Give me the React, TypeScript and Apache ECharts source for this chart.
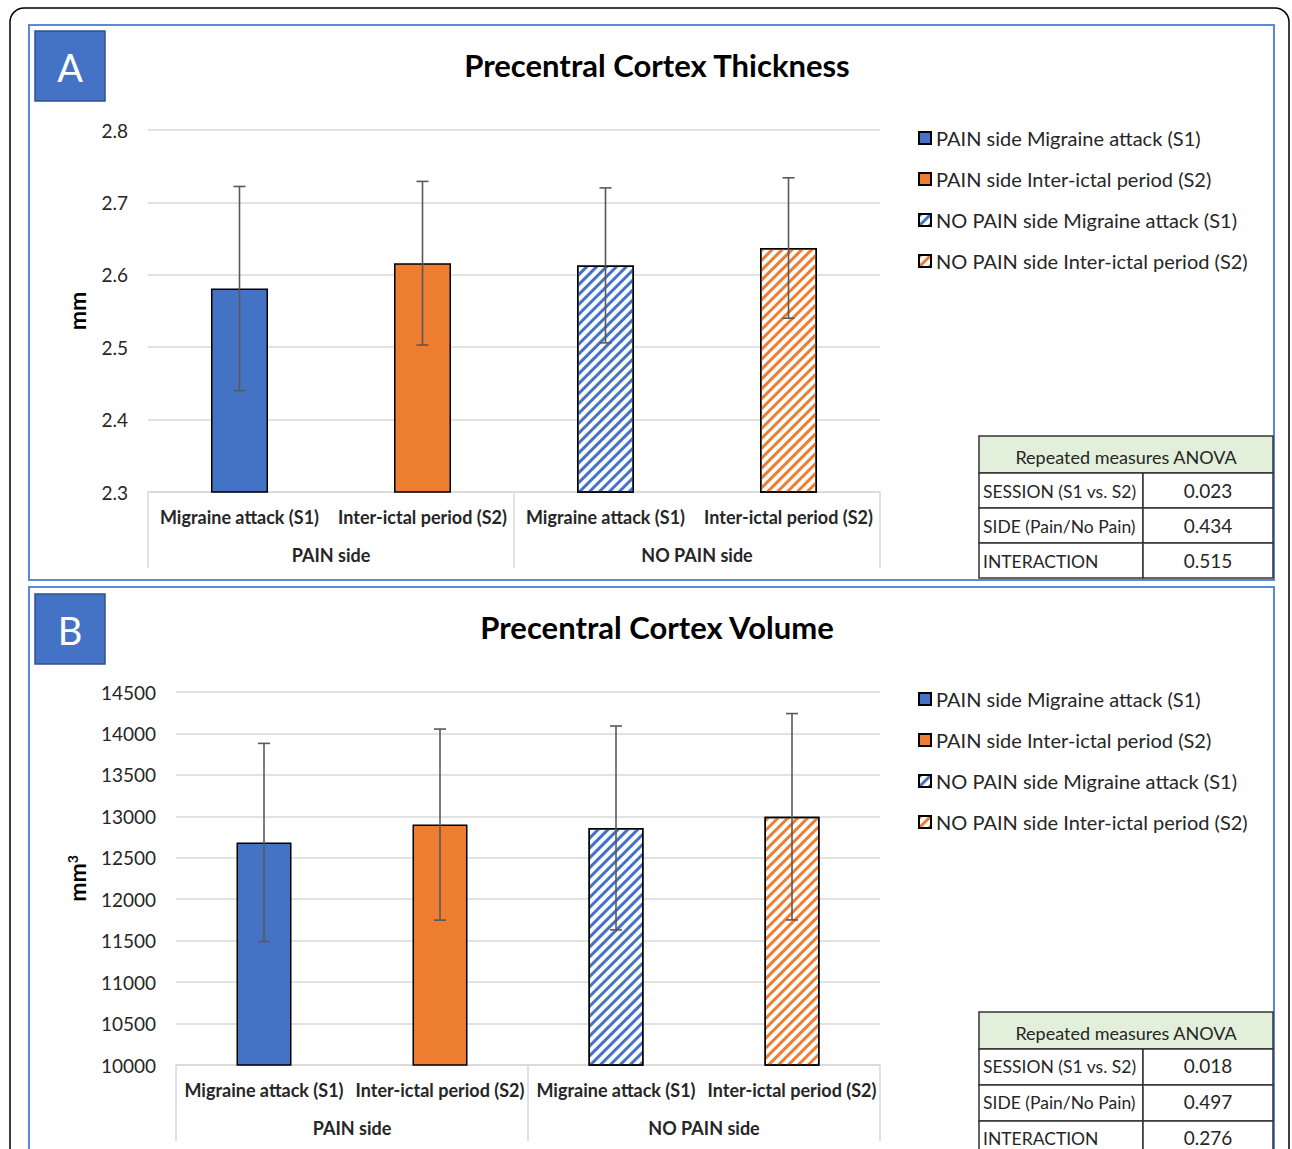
import React, { useEffect, useRef } from "react";
import * as echarts from "echarts";

const categories = ["Migraine attack (S1)", "Inter-ictal period (S2)", "Migraine attack (S1)", "Inter-ictal period (S2)"];
const groups = ["PAIN side", "NO PAIN side"];
const seriesNames = [
  "PAIN side Migraine attack (S1)",
  "PAIN side Inter-ictal period (S2)",
  "NO PAIN side Migraine attack (S1)",
  "NO PAIN side Inter-ictal period (S2)",
];
const thicknessMean = [2.581, 2.616, 2.613, 2.637];
const thicknessSD = [0.141, 0.113, 0.107, 0.097];
const volumeMean = [12685, 12900, 12860, 12995];
const volumeSD = [1195, 1153, 1230, 1245];
const thicknessTicks = [2.3, 2.4, 2.5, 2.6, 2.7, 2.8];
const volumeTicks = [10000, 10500, 11000, 11500, 12000, 12500, 13000, 13500, 14000, 14500];
const titles = ["Precentral Cortex Thickness", "Precentral Cortex Volume"];
const panelLetters = ["A", "B"];
const anovaHeader = "Repeated measures ANOVA";
const anovaEffects = ["SESSION (S1 vs. S2)", "SIDE (Pain/No Pain)", "INTERACTION"];
const anovaThickness = ["0.023", "0.434", "0.515"];
const anovaVolume = ["0.018", "0.497", "0.276"];

const FONT = 'Lato, "Open Sans", sans-serif';
const BLUE = "#4472C4";
const ORANGE = "#ED7D31";
const TXT = "#262626";

const hatch = (c: string) => ({
  symbol: "rect",
  symbolSize: 1,
  color: c,
  backgroundColor: "#ffffff",
  dashArrayX: [1, 0],
  dashArrayY: [3, 3.2],
  rotation: -Math.PI / 4,
});

const barStyles = [
  { color: BLUE, borderColor: "#000", borderWidth: 1.5 },
  { color: ORANGE, borderColor: "#000", borderWidth: 1.5 },
  { color: "#ffffff", borderColor: "#000", borderWidth: 1.5, decal: hatch(BLUE) },
  { color: "#ffffff", borderColor: "#000", borderWidth: 1.5, decal: hatch(ORANGE) },
];

const App: React.FC = () => {
  const ref = useRef<HTMLDivElement>(null);
  useEffect(() => {
    if (!ref.current) return;
    const chart = echarts.init(ref.current, undefined, { renderer: "svg" });

    const grids = [
      { left: 148, top: 130, width: 732, height: 362 },
      { left: 176, top: 692, width: 704, height: 373 },
    ];
    const means = [thicknessMean, volumeMean];
    const sds = [thicknessSD, volumeSD];
    const ticks = [thicknessTicks, volumeTicks];

    const xAxes: any[] = [];
    const yAxes: any[] = [];
    const series: any[] = [];
    [0, 1].forEach((g) => {
      xAxes.push({
        type: "category",
        gridIndex: g,
        data: categories,
        axisLine: { show: true, lineStyle: { color: "#d9d9d9", width: 1.5 } },
        axisTick: { show: false },
        axisLabel: { margin: 16, fontFamily: FONT, fontSize: 18, fontWeight: "bold", color: TXT, interval: 0 },
      });
      xAxes.push({
        type: "category",
        gridIndex: g,
        position: "bottom",
        data: groups,
        axisLine: { show: false },
        axisTick: { show: true, length: 76, lineStyle: { color: "#d9d9d9", width: 1.5 } },
        axisLabel: { margin: 54, fontFamily: FONT, fontSize: 18, fontWeight: "bold", color: TXT },
      });
      const t = ticks[g];
      yAxes.push({
        type: "value",
        gridIndex: g,
        min: t[0],
        max: t[t.length - 1],
        interval: t[1] - t[0],
        name: g === 0 ? "mm" : "mm{s|3}",
        nameLocation: "middle",
        nameGap: g === 0 ? 60 : 88,
        nameTextStyle: {
          fontFamily: FONT,
          fontSize: 23,
          fontWeight: "bold",
          color: "#000",
          rich: { s: { fontFamily: FONT, fontSize: 14, fontWeight: "bold", color: "#000", verticalAlign: "top", padding: [0, 0, 8, 0] } },
        },
        axisLine: { show: false },
        axisTick: { show: false },
        splitLine: { lineStyle: { color: "#d9d9d9", width: 1.5 } },
        axisLabel: {
          margin: 20,
          fontFamily: FONT,
          fontSize: 19,
          color: TXT,
          formatter: (v: number) => (g === 0 ? v.toFixed(1) : String(Math.round(v))),
        },
      });
      seriesNames.forEach((name, i) => {
        series.push({
          type: "bar",
          name,
          xAxisIndex: g * 2,
          yAxisIndex: g,
          barWidth: g === 0 ? 57 : 55,
          barGap: "-100%",
          itemStyle: barStyles[i],
          data: means[g].map((v, j) => (j === i ? v : "-")),
        });
      });
      series.push({
        type: "custom",
        name: "err" + g,
        xAxisIndex: g * 2,
        yAxisIndex: g,
        z: 5,
        data: means[g].map((m, j) => [j, m, sds[g][j]]),
        encode: { x: 0, y: 1 },
        renderItem: (params: any, api: any) => {
          const j = api.value(0);
          const m = api.value(1);
          const s = api.value(2);
          const top = api.coord([j, m + s]);
          const bot = api.coord([j, m - s]);
          const st = { stroke: "#595959", lineWidth: 1.6 };
          return {
            type: "group",
            children: [
              { type: "line", shape: { x1: top[0], y1: top[1], x2: bot[0], y2: bot[1] }, style: st },
              { type: "line", shape: { x1: top[0] - 6, y1: top[1], x2: top[0] + 6, y2: top[1] }, style: st },
              { type: "line", shape: { x1: bot[0] - 6, y1: bot[1], x2: bot[0] + 6, y2: bot[1] }, style: st },
            ],
          };
        },
      });
    });

    const makeTable = (x: number, y: number, hh: number, rh: number, vals: string[], dy: number) => {
      const w = 294;
      const colX = 1143;
      const children: any[] = [];
      const border = { stroke: "#333", lineWidth: 1.5 };
      children.push({ type: "rect", shape: { x, y, width: w, height: hh }, style: { fill: "#E2EFDA", ...border } });
      children.push({
        type: "text",
        x: x + w / 2,
        y: y + hh / 2 + 2,
        style: { text: anovaHeader, fontFamily: FONT, fontSize: 18, fill: TXT, align: "center", verticalAlign: "middle" },
      });
      anovaEffects.forEach((lab, i) => {
        const ry = y + hh + i * rh;
        children.push({ type: "rect", shape: { x, y: ry, width: colX - x, height: rh }, style: { fill: "#fff", ...border } });
        children.push({ type: "rect", shape: { x: colX, y: ry, width: x + w - colX, height: rh }, style: { fill: "#fff", ...border } });
        children.push({
          type: "text",
          x: x + 4,
          y: ry + rh / 2 + dy,
          style: { text: lab, fontFamily: FONT, fontSize: 17.5, fill: TXT, align: "left", verticalAlign: "middle" },
        });
        children.push({
          type: "text",
          x: (colX + x + w) / 2,
          y: ry + rh / 2 + dy - 1,
          style: { text: vals[i], fontFamily: FONT, fontSize: 19, fill: TXT, align: "center", verticalAlign: "middle" },
        });
      });
      return { type: "group", children };
    };

    const graphic: any[] = [
      { type: "rect", shape: { x: 10, y: 8, width: 1279, height: 1300, r: 14 }, style: { fill: "none", stroke: "#000", lineWidth: 1.5 }, z: 0 },
      { type: "rect", shape: { x: 29, y: 25, width: 1245, height: 555 }, style: { fill: "none", stroke: "#5B87D4", lineWidth: 2 } },
      { type: "rect", shape: { x: 29, y: 587, width: 1245, height: 620 }, style: { fill: "none", stroke: "#5B87D4", lineWidth: 2 } },
      { type: "rect", shape: { x: 35, y: 31, width: 70, height: 70 }, style: { fill: BLUE, stroke: "#2F528F", lineWidth: 1.5 } },
      { type: "rect", shape: { x: 35, y: 594, width: 70, height: 70 }, style: { fill: BLUE, stroke: "#2F528F", lineWidth: 1.5 } },
      { type: "text", x: 70, y: 67, style: { text: panelLetters[0], fontFamily: FONT, fontSize: 38, fill: "#fff", align: "center", verticalAlign: "middle" } },
      { type: "text", x: 70, y: 630, style: { text: panelLetters[1], fontFamily: FONT, fontSize: 38, fill: "#fff", align: "center", verticalAlign: "middle" } },
      makeTable(979, 436, 37, 35, anovaThickness, 1),
      makeTable(979, 1012, 37, 36, anovaVolume, -1),
    ];

    const legendBase = {
      data: seriesNames,
      left: 913,
      orient: "vertical",
      itemGap: 21,
      itemWidth: 12,
      itemHeight: 12,
      icon: "rect",
      selectedMode: false,
      textStyle: { fontFamily: FONT, fontSize: 20, color: TXT, lineHeight: 20 },
    };

    chart.setOption({
      animation: false,
      backgroundColor: "#fff",
      title: [
        { text: titles[0], left: 652, top: 44, textAlign: "center", textStyle: { fontFamily: FONT, fontSize: 31, fontWeight: "bold", color: "#000" } },
        { text: titles[1], left: 652, top: 606, textAlign: "center", textStyle: { fontFamily: FONT, fontSize: 31, fontWeight: "bold", color: "#000" } },
      ],
      legend: [
        { ...legendBase, top: 123 },
        { ...legendBase, top: 684 },
      ],
      grid: grids,
      xAxis: xAxes,
      yAxis: yAxes,
      series,
      graphic,
    });
    return () => chart.dispose();
  }, []);
  return <div ref={ref} style={{ position: "absolute", left: 0, top: 0, width: 1292, height: 1149 }} />;
};

export default App;
